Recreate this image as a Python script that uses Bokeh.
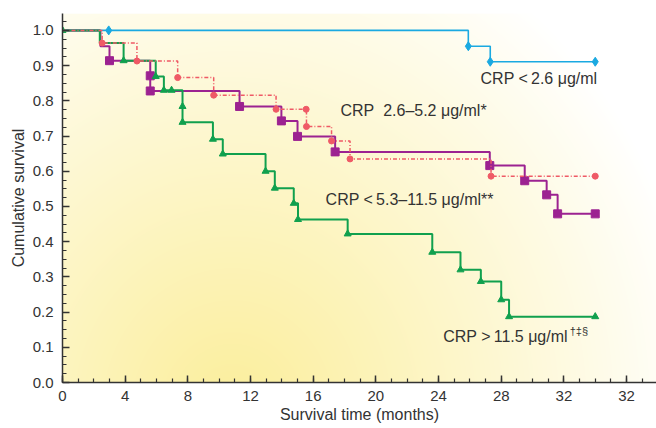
import numpy as np
from bokeh.plotting import figure
from bokeh.models import FixedTicker, Range1d
from bokeh.core.properties import value
from bokeh.embed import file_html
from bokeh.resources import INLINE

# ---------------- data ----------------
x_ticks = [0, 4, 8, 12, 16, 20, 24, 28, 32, 36]
x_tick_labels = ["0", "4", "8", "12", "16", "20", "24", "28", "32", "32"]
y_ticks = [0.0, 0.1, 0.2, 0.3, 0.4, 0.5, 0.6, 0.7, 0.8, 0.9, 1.0]
y_tick_labels = ["0.0", "0.1", "0.2", "0.3", "0.4", "0.5", "0.6", "0.7", "0.8", "0.9", "1.0"]

# CRP < 2.6 ug/ml
low_t = [0.0, 25.9, 27.3, 34.0]
low_s = [1.0, 0.955, 0.911, 0.911]
low_mark_t = [2.95, 25.9, 27.3, 34.0]
low_mark_s = [1.0, 0.955, 0.911, 0.911]

# CRP 2.6-5.2 ug/ml
mid_t = [0.0, 2.53, 4.75, 7.35, 9.65, 13.63, 15.57, 17.17, 18.35, 27.35, 34.0]
mid_s = [1.0, 0.964, 0.913, 0.866, 0.816, 0.776, 0.727, 0.686, 0.635, 0.586, 0.586]
mid_mark_t = [2.53, 4.75, 7.35, 9.65, 13.63, 15.55, 15.57, 17.17, 18.35, 27.35, 34.0]
mid_mark_s = [0.964, 0.913, 0.866, 0.816, 0.776, 0.776, 0.727, 0.686, 0.635, 0.586, 0.586]

# CRP 5.3-11.5 ug/ml
high_t = [0.0, 2.42, 3.0, 5.6, 5.6, 11.3, 13.97, 15.0, 17.4, 27.27, 29.5, 30.9, 31.6, 34.0]
high_s = [1.0, 0.955, 0.914, 0.871, 0.828, 0.784, 0.743, 0.699, 0.655, 0.616, 0.573, 0.533, 0.479, 0.479]
high_mark_t = [3.0, 5.6, 5.6, 11.3, 13.97, 15.0, 17.4, 27.27, 29.5, 30.9, 31.6, 34.0]
high_mark_s = [0.914, 0.871, 0.828, 0.784, 0.743, 0.699, 0.655, 0.616, 0.573, 0.533, 0.479, 0.479]

# CRP > 11.5 ug/ml
top_t = [0.0, 2.38, 3.9, 5.95, 6.47, 7.66, 7.66, 9.6, 10.23, 12.96, 13.55, 14.76, 15.03,
         18.2, 23.6, 25.4, 26.7, 28.0, 28.5, 34.0]
top_s = [1.0, 0.964, 0.914, 0.869, 0.83, 0.784, 0.739, 0.691, 0.649, 0.600, 0.552, 0.509, 0.463,
         0.422, 0.370, 0.320, 0.287, 0.235, 0.187, 0.187]
top_mark_t = [0.0, 3.9, 5.95, 6.47, 6.96, 7.66, 7.66, 9.6, 10.23, 12.96, 13.55, 14.76, 15.03,
              18.2, 23.6, 25.4, 26.7, 28.0, 28.5, 34.0]
top_mark_s = [1.0, 0.914, 0.869, 0.83, 0.83, 0.784, 0.739, 0.691, 0.649, 0.600, 0.552, 0.509, 0.463,
              0.422, 0.370, 0.320, 0.287, 0.235, 0.187, 0.187]

# ---------------- figure ----------------
XMAX, YMAX = 37.91, 1.048
FONT = "Liberation Sans"
TXT = "#333333"

p = figure(width=656, height=428, x_range=Range1d(0, XMAX), y_range=Range1d(0, YMAX),
           output_backend="svg", toolbar_location=None,
           min_border_left=62, min_border_right=0, min_border_top=13, min_border_bottom=46)
p.outline_line_color = None
p.grid.visible = False
p.background_fill_color = "white"
p.border_fill_color = "white"

# background gradient (style only)
W, H = 594, 369
xx, yy = np.meshgrid(np.arange(W) + 0.5, np.arange(H) + 0.5)
cx, cy = 170.0, -30.0
r = np.sqrt(((xx - cx) / 470.0) ** 2 + ((yy - cy) / 520.0) ** 2)
f = np.clip(1.0 - r, 0.0, 1.0) ** 0.95
yellow = np.array([251, 238, 155], dtype=float)
img = np.empty((H, W), dtype=np.uint32)
view = img.view(dtype=np.uint8).reshape((H, W, 4))
for k in range(3):
    view[:, :, k] = np.round(255 - (255 - yellow[k]) * f).astype(np.uint8)
view[:, :, 3] = 255
p.image_rgba(image=[img], x=0, y=0, dw=XMAX, dh=YMAX)

# curves
blue, pink, purple, green = "#1aa9e1", "#ef5a66", "#9c2291", "#10a04e"
p.step(low_t, low_s, mode="after", line_color=blue, line_width=1.6)
p.scatter(low_mark_t, low_mark_s, marker="diamond", size=9, color=blue)

p.step(high_t, high_s, mode="after", line_color=purple, line_width=2)
p.scatter(high_mark_t, high_mark_s, marker="square", size=8, color=purple)

p.step(top_t, top_s, mode="after", line_color=green, line_width=2)
p.scatter(top_mark_t, top_mark_s, marker="triangle", size=7, color=green)

p.step(mid_t, mid_s, mode="after", line_color=pink, line_width=1.5, line_dash="4 2 1 2")
p.scatter(mid_mark_t, mid_mark_s, marker="circle", size=6, color=pink)

# labels
p.text(x=[26.68, 17.74, 16.79, 24.3], y=[0.864, 0.773, 0.52, 0.1315],
       text=["CRP <\u20092.6 \u03bcg/ml", "CRP\u00a0\u00a02.6\u20135.2 \u03bcg/ml*",
             "CRP <\u20095.3\u201311.5 \u03bcg/ml**", "CRP >\u200911.5 \u03bcg/ml"],
       text_font=value(FONT), text_font_size="16px", text_color=TXT,
       text_baseline="middle", text_align="left")
p.text(x=[32.37], y=[0.145], text=["\u2020\u2021\u00a7"],
       text_font=value(FONT), text_font_size="11px", text_color=TXT,
       text_baseline="middle", text_align="left")

# axes
p.xaxis.ticker = FixedTicker(ticks=x_ticks, minor_ticks=list(range(0, 38)))
p.xaxis.major_label_overrides = dict(zip(x_ticks, x_tick_labels))
p.yaxis.ticker = FixedTicker(ticks=y_ticks, minor_ticks=[i * 0.025 for i in range(0, 43)])
p.yaxis.major_label_overrides = dict(zip(y_ticks, y_tick_labels))
p.xaxis.axis_label = "Survival time (months)"
p.yaxis.axis_label = "Cumulative survival"
for ax in (p.xaxis, p.yaxis):
    ax.axis_line_color = TXT
    ax.axis_line_width = 1.5
    ax.major_tick_line_color = TXT
    ax.minor_tick_line_color = TXT
    ax.major_tick_line_width = 1.5
    ax.minor_tick_line_width = 1.2
    ax.major_tick_in = 7
    ax.major_tick_out = 0
    ax.minor_tick_in = 4
    ax.minor_tick_out = 0
    ax.major_label_text_font = FONT
    ax.major_label_text_font_size = "15px"
    ax.major_label_text_color = TXT
    ax.axis_label_text_font = FONT
    ax.axis_label_text_font_size = "16px"
    ax.axis_label_text_font_style = "normal"
    ax.axis_label_text_color = TXT
p.xaxis.major_label_standoff = 8
p.xaxis.axis_label_standoff = 2
p.yaxis.major_label_standoff = 9
p.yaxis.axis_label_standoff = 3

open("out.html", "w").write(file_html(p, INLINE))
